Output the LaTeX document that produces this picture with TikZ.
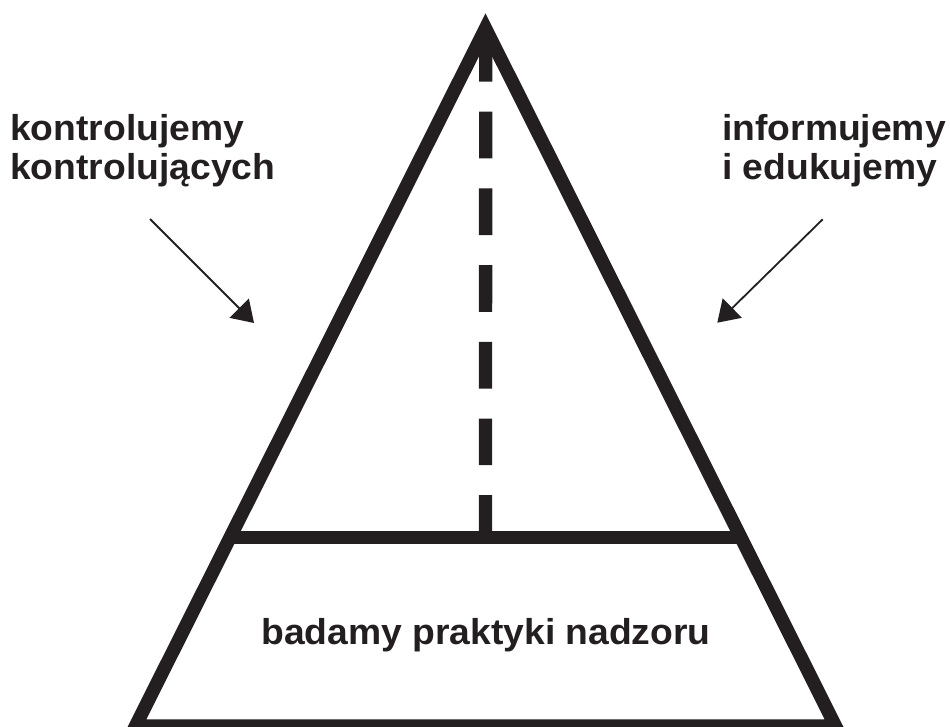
\documentclass[tikz,border=0pt]{standalone}
\usepackage{fontspec}
\setmainfont{Liberation Sans}
\newfontfamily\labelfont[FakeStretch=1.035]{Liberation Sans}
\usetikzlibrary{arrows.meta,calc}
\definecolor{ink}{RGB}{35,31,32}
\tikzset{
  frame/.style={line width=13.4pt, line join=miter, draw=ink},
  dashline/.style={line width=13.3pt, draw=ink, dash pattern=on 46.7pt off 30pt},
  label/.style={inner sep=0pt, font=\labelfont\fontsize{36}{39}\selectfont\bfseries, text=ink},
  pointer/.style={line width=1.8pt, draw=ink, -{Triangle[length=21pt,width=27pt]}}
}
\begin{document}
\begin{tikzpicture}[x=1pt,y=-1pt]
\useasboundingbox (0,0) rectangle (950,726);
\clip (0,0) rectangle (950,726);
\coordinate (A) at (485.5,28.4);
\coordinate (B) at (135.5,726);
\coordinate (C) at (835.5,726);
\coordinate (L) at ($(A)!0.7298!(B)$);
\coordinate (R) at ($(A)!0.7298!(C)$);
\coordinate (M) at ($(L)!0.5!(R)$);
\coordinate (T) at (485.7,35);
% dashed centre line
\draw[dashline] (T) -- (M);
% triangle
\draw[frame] (B) -- (A) -- (C) -- cycle;
\draw[frame,line cap=butt] (L) -- (R);
% labels
\node[label, anchor=base west] (k1) at (10,140) {kontrolujemy};
\node[label, anchor=base west] (k2) at (10,179) {kontrolujących};
\node[label, anchor=base west] (i1) at (722,140) {informujemy};
\node[label, anchor=base west] (i2) at (722,179) {i edukujemy};
\node[label, anchor=base] (b1) at (486,644) {badamy praktyki nadzoru};
% arrows
\coordinate (la) at (150,219);
\coordinate (lb) at (254,323);
\coordinate (ra) at (822.7,219.3);
\coordinate (rb) at (717.3,322.7);
\draw[pointer] (la) -- (lb);
\draw[pointer] (ra) -- (rb);
\end{tikzpicture}
\end{document}
